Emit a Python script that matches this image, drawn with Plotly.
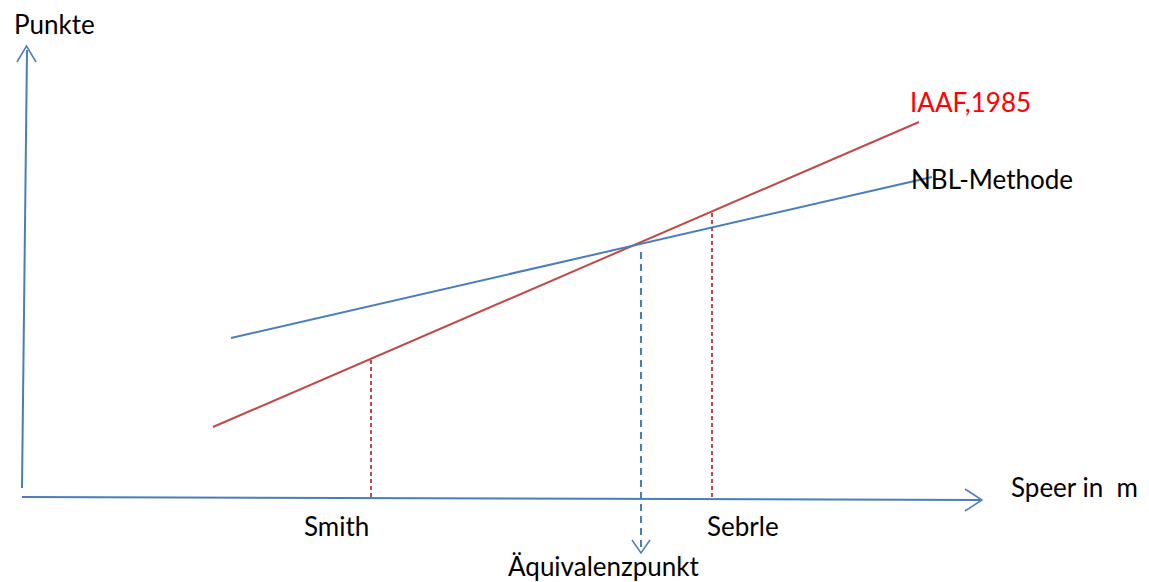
import plotly.graph_objects as go

# Schematic coordinates (units chosen so 1 unit ~ 1 px, y grows downward)
y_axis_x = [22, 27]
y_axis_y = [488, 50]
x_axis_x = [22, 980]
x_axis_y = [497, 500]

iaaf_x = [213, 919]
iaaf_y = [427, 122]
nbl_x = [231, 932]
nbl_y = [338, 177]

smith_x = [371, 371]
smith_y = [360, 499]
sebrle_x = [712, 712]
sebrle_y = [213, 499]
equiv_x = [641, 641]
equiv_y = [252, 552]

# Open arrowheads (V shapes)
head_y_x = [17, 26.5, 36]
head_y_y = [62, 46, 62]
head_x_x = [965, 982, 965]
head_x_y = [489, 500, 511]
head_e_x = [632, 641, 650]
head_e_y = [540, 553, 540]

labels = ["Punkte", "Speer in  m", "IAAF,1985", "NBL-Methode", "Smith", "Sebrle", "Äquivalenzpunkt"]
label_x = [12, 1009, 908, 909, 336, 743, 604]
label_y = [24, 487, 102, 179, 526, 526, 566]
label_anchor = ["left", "left", "left", "left", "center", "center", "center"]
label_color = ["black", "black", "#FF0000", "black", "black", "black", "black"]

BLUE = "#4A7EBB"
RED = "#BE4B48"

fig = go.Figure()

def line(x, y, color, dash="solid", width=2):
    fig.add_trace(go.Scatter(x=x, y=y, mode="lines", line=dict(color=color, width=width, dash=dash),
                             hoverinfo="skip", showlegend=False))

line(y_axis_x, y_axis_y, BLUE)
line(x_axis_x, x_axis_y, BLUE)
line(head_y_x, head_y_y, BLUE, width=1.5)
line(head_x_x, head_x_y, BLUE, width=1.5)
line(iaaf_x, iaaf_y, RED)
line(nbl_x, nbl_y, BLUE)
line(smith_x, smith_y, RED, dash="4px,3px", width=2)
line(sebrle_x, sebrle_y, RED, dash="4px,3px", width=2)
line(equiv_x, equiv_y, BLUE, dash="7px,5px", width=2)
line(head_e_x, head_e_y, BLUE, width=1.5)

for t, x, y, a, c in zip(labels, label_x, label_y, label_anchor, label_color):
    fig.add_annotation(x=x, y=y, text=t, showarrow=False, xanchor=a, yanchor="middle",
                       font=dict(family="Lato", size=26, color=c))

# page has an 8px body margin: figure covers page pixels 8..1149 / 8..582
fig.update_layout(
    width=1141, height=574,
    margin=dict(l=0, r=0, t=0, b=0),
    paper_bgcolor="white", plot_bgcolor="white",
    xaxis=dict(range=[8, 1149], visible=False, fixedrange=True),
    yaxis=dict(range=[582, 8], visible=False, fixedrange=True),
)

fig.write_html("out.html", config={"displayModeBar": False})
